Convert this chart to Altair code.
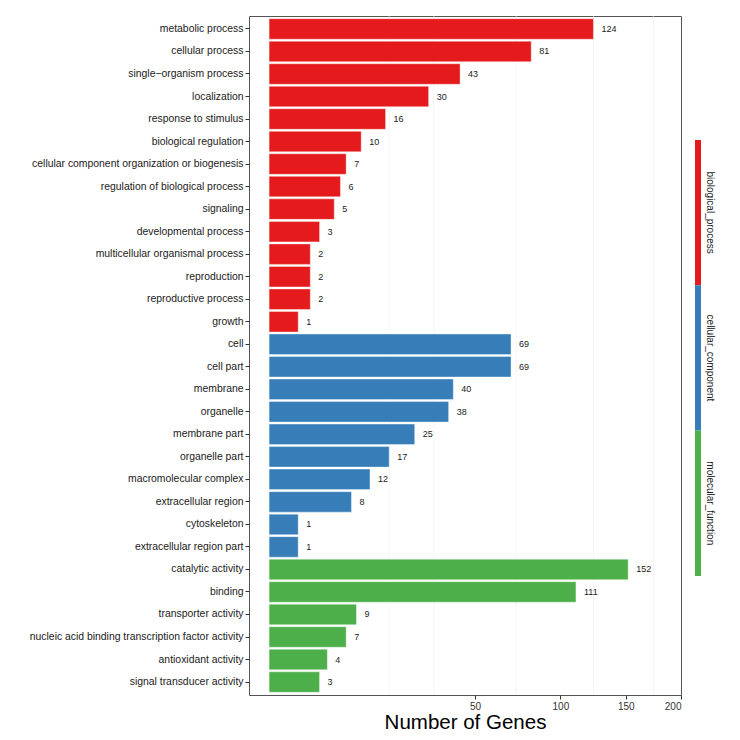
import altair as alt
import pandas as pd

categories = [
    "metabolic process", "cellular process", "single\u2212organism process", "localization",
    "response to stimulus", "biological regulation",
    "cellular component organization or biogenesis", "regulation of biological process",
    "signaling", "developmental process", "multicellular organismal process",
    "reproduction", "reproductive process", "growth",
    "cell", "cell part", "membrane", "organelle", "membrane part", "organelle part",
    "macromolecular complex", "extracellular region", "cytoskeleton",
    "extracellular region part",
    "catalytic activity", "binding", "transporter activity",
    "nucleic acid binding transcription factor activity", "antioxidant activity",
    "signal transducer activity",
]
values = [124, 81, 43, 30, 16, 10, 7, 6, 5, 3, 2, 2, 2, 1,
          69, 69, 40, 38, 25, 17, 12, 8, 1, 1,
          152, 111, 9, 7, 4, 3]
groups = (["biological_process"] * 14 + ["cellular_component"] * 10
          + ["molecular_function"] * 6)

group_names = ["biological_process", "cellular_component", "molecular_function"]
group_colors = ["#E41A1C", "#377EB8", "#4DAF4A"]
tick_values = [50, 100, 150, 200]
grid_values = [17, 32, 72, 124, 174]

df = pd.DataFrame({"term": categories, "count": values, "group": groups})
grid_df = pd.DataFrame({"g": grid_values})
strip_df = pd.DataFrame({"group": group_names})

FONT = "Liberation Sans"
xscale = alt.Scale(type="sqrt", domain=[-0.476, 200], nice=False, zero=False)
color = alt.Color("group:N", scale=alt.Scale(domain=group_names, range=group_colors), legend=None)
yenc = alt.Y("term:N", sort=categories, title=None,
             scale=alt.Scale(paddingInner=0.09, paddingOuter=0.12),
             axis=alt.Axis(labelFont=FONT, labelFontSize=10.4, labelColor="#1a1a1a",
                           tickSize=4, tickColor="#333333", labelPadding=2,
                           domain=False, grid=False, labelLimit=400))

grid = alt.Chart(grid_df).mark_rule(color="#ececec", strokeWidth=0.6).encode(
    x=alt.X("g:Q", scale=xscale)
)

bars = alt.Chart(df).mark_bar(stroke="white", strokeWidth=0.4).encode(
    y=yenc,
    x=alt.X("count:Q", scale=xscale, title="Number of Genes",
            axis=alt.Axis(values=tick_values, labelFont=FONT, labelFontSize=10,
                          labelColor="#333333", tickSize=4, tickColor="#333333",
                          domain=False, grid=False, titleFont=FONT,
                          titleFontSize=20.5, titleFontWeight="normal",
                          titleColor="#000000", titlePadding=1, labelPadding=2)),
    x2=alt.datum(0),
    color=color,
)

labels = alt.Chart(df).mark_text(align="left", baseline="middle", dx=8,
                                 font=FONT, fontSize=9, color="#222222").encode(
    y=alt.Y("term:N", sort=categories),
    x=alt.X("count:Q", scale=xscale),
    text="count:Q",
)

main = alt.layer(grid, bars, labels).properties(
    width=432, height=679,
    view=alt.ViewBackground(stroke="#555555", strokeWidth=1),
)

ystrip = alt.Y("group:N", sort=group_names, axis=None,
               scale=alt.Scale(paddingInner=0, paddingOuter=0.836, align=0.51))
strip_rect = alt.Chart(strip_df).mark_rect().encode(y=ystrip, color=color)
strip_text = alt.Chart(strip_df).mark_text(angle=90, dy=-12, align="center",
                                           baseline="middle", font=FONT,
                                           fontSize=10, color="#1a1a1a").encode(
    y=ystrip, text="group:N"
)
strip = alt.layer(strip_rect, strip_text).properties(width=6, height=679)

chart = alt.hconcat(main, strip, spacing=14, bounds="flush").properties(
    padding={"left": 20, "top": 7, "right": 5, "bottom": 5},
    background="white",
).configure_view(strokeWidth=0)

chart.save("out.html", embed_options={"renderer": "svg", "actions": False})
